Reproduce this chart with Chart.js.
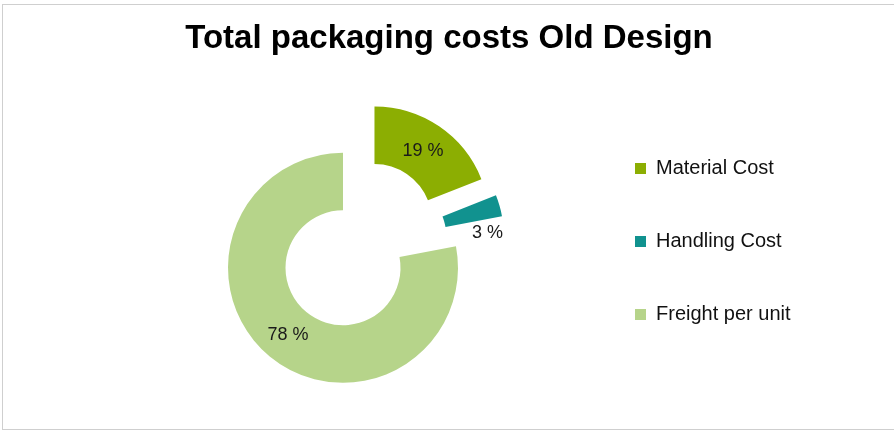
<!DOCTYPE html>
<html>
<head>
<meta charset="utf-8">
<title>Total packaging costs Old Design</title>
<script src="https://cdn.jsdelivr.net/npm/chart.js@4.4.1/dist/chart.umd.min.js"></script>
<style>
  html, body { margin: 0; padding: 0; background: #fff; }
  #wrap  { position: relative; width: 894px; height: 430px; overflow: hidden; }
  #frame { position: absolute; left: 2px; top: 4px; width: 900px; height: 424px;
           border: 1px solid #cfcfcf; pointer-events: none; }
</style>
</head>
<body>
<div id="wrap">
  <canvas id="costChart"></canvas>
  <div id="frame"></div>
</div>
<script>
/* data */
const categories  = ['Material Cost', 'Handling Cost', 'Freight per unit'];
const shares      = [19, 3, 78];

/* looks */
const sliceColors = ['#8cae02', '#11928f', '#b6d48a'];
const explode     = [56, 55, 0];   // px each slice is pulled out
const explodeTilt = [0, -17, 0];   // deg the pull turns away from the slice middle
const FONT        = '"Liberation Sans", Arial, sans-serif';

const deg = Math.PI / 180;
function pullVector(arc, i) {
  const dir = (arc.startAngle + arc.endAngle) / 2 + explodeTilt[i] * deg;
  return { dx: Math.cos(dir) * explode[i], dy: Math.sin(dir) * explode[i] };
}

/* Chart.js' own offset also trims the slice, so pull slices out by hand (plain shift) */
const explodeSlices = {
  id: 'explodeSlices',
  beforeDatasetsDraw(chart) {
    chart.getDatasetMeta(0).data.forEach((arc, i) => {
      if (arc._exploded) return;
      const baseDraw = arc.draw;
      arc.draw = function (ctx, area) {
        const { dx, dy } = pullVector(this, i);
        ctx.save();
        ctx.translate(dx, dy);
        baseDraw.call(this, ctx, area);
        ctx.restore();
      };
      arc._exploded = true;
    });
  }
};

/* percent labels on / next to the slices */
const sliceLabels = {
  id: 'sliceLabels',
  afterDatasetsDraw(chart) {
    const { ctx } = chart;
    const meta  = chart.getDatasetMeta(0);
    const total = shares.reduce((s, v) => s + v, 0);
    ctx.save();
    ctx.font = '18px ' + FONT;
    ctx.fillStyle = '#1a1a1a';
    ctx.textBaseline = 'middle';
    meta.data.forEach((arc, i) => {
      const { x, y, startAngle, endAngle, innerRadius, outerRadius } = arc;
      const { dx, dy } = pullVector(arc, i);
      const ox  = x + dx, oy = y + dy;
      const mid = (startAngle + endAngle) / 2;
      const pct = Math.round(shares[i] / total * 100);
      const txt = pct + ' %';
      if (pct >= 5) {
        const r = (innerRadius + outerRadius) / 2;
        ctx.textAlign = 'center';
        ctx.fillText(txt, ox + Math.cos(mid) * r, oy + Math.sin(mid) * r + 1);
      } else {
        // thin slice: label sits just under its outer end corner
        ctx.textAlign = 'right';
        ctx.fillText(txt, ox + Math.cos(endAngle) * outerRadius + 1, oy + Math.sin(endAngle) * outerRadius + 17);
      }
    });
    ctx.restore();
  }
};

new Chart(document.getElementById('costChart'), {
  type: 'doughnut',
  data: {
    labels: categories,
    datasets: [{
      data: shares,
      backgroundColor: sliceColors,
      borderWidth: 0,
      hoverOffset: 0
    }]
  },
  options: {
    responsive: true,
    maintainAspectRatio: false,
    animation: false,
    events: [],
    radius: 115,
    cutout: '50%',
    layout: { padding: { left: 104, right: 100, top: 0, bottom: 0 } },
    plugins: {
      tooltip: { enabled: false },
      title: {
        display: true,
        text: 'Total packaging costs Old Design',
        color: '#000',
        font: { family: FONT, size: 33, weight: 'bold' },
        padding: { top: 19, bottom: 47 }
      },
      legend: {
        position: 'right',
        align: 'start',
        fullSize: false,
        maxWidth: 212,
        labels: {
          color: '#111',
          font: { family: FONT, size: 20 },
          boxWidth: 11,
          boxHeight: 11,
          padding: 53
        }
      }
    }
  },
  plugins: [explodeSlices, sliceLabels]
});
</script>
</body>
</html>
